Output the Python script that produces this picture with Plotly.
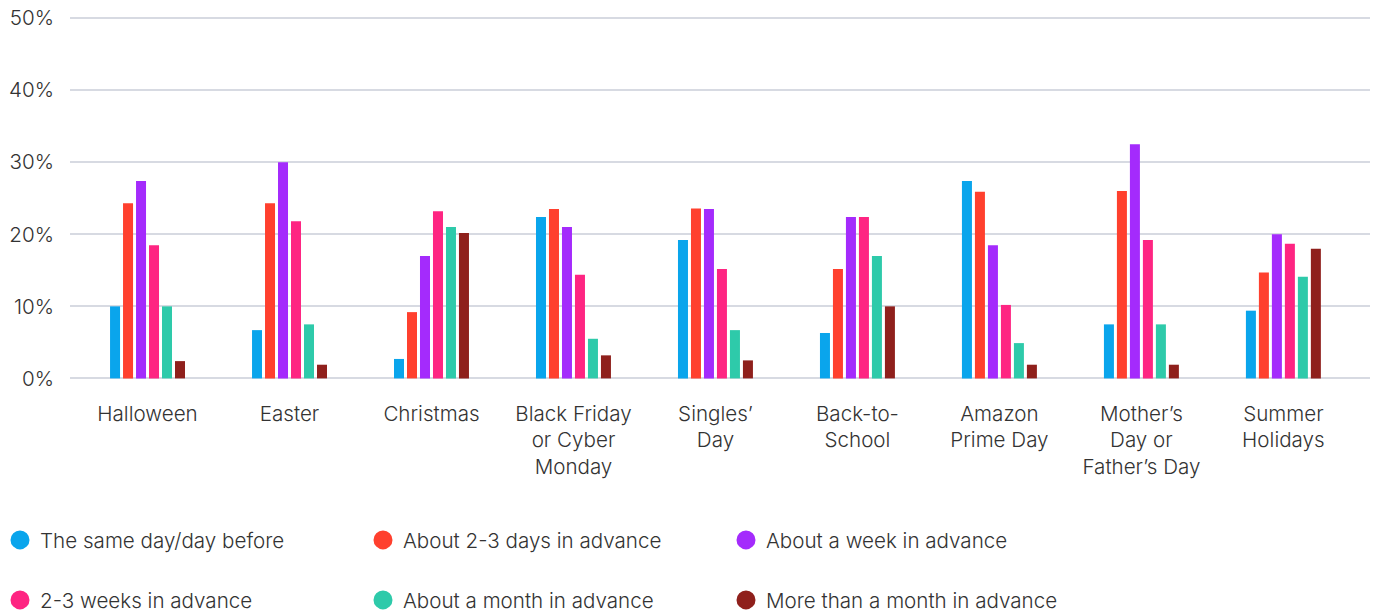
import plotly.graph_objects as go

# Occasions (x-axis categories)
occasions = [
    "Halloween", "Easter", "Christmas", "Black Friday<br>or Cyber<br>Monday",
    "Singles’<br>Day", "Back-to-<br>School", "Amazon<br>Prime Day",
    "Mother’s<br>Day or<br>Father’s Day", "Summer<br>Holidays",
]

# Share of shoppers (%) by how far ahead they buy
same_day = [10.0, 6.7, 2.7, 22.4, 19.2, 6.3, 27.4, 7.5, 9.4]
days_2_3 = [24.3, 24.3, 9.2, 23.5, 23.6, 15.2, 25.9, 26.0, 14.7]
one_week = [27.4, 30.0, 17.0, 21.0, 23.5, 22.4, 18.5, 32.5, 20.0]
weeks_2_3 = [18.5, 21.8, 23.2, 14.4, 15.2, 22.4, 10.2, 19.2, 18.7]
one_month = [10.0, 7.5, 21.0, 5.5, 6.7, 17.0, 4.9, 7.5, 14.1]
over_month = [2.4, 1.9, 20.2, 3.2, 2.5, 10.0, 1.9, 1.9, 18.0]

series_names = [
    "The same day/day before", "About 2-3 days in advance", "About a week in advance",
    "2-3 weeks in advance", "About a month in advance", "More than a month in advance",
]
series_values = [same_day, days_2_3, one_week, weeks_2_3, one_month, over_month]
colors = ["#0AA5EC", "#FF402E", "#A42BFC", "#FE2582", "#2ECAAA", "#8F201C"]

y_ticks = [0, 10, 20, 30, 40, 50]
y_tick_text = ["0%", "10%", "20%", "30%", "40%", "50%"]

FONT = "Inter Light, Inter, sans-serif"
TEXT = "#333333"
FSIZE = 20.6

fig = go.Figure()

for name, vals, col in zip(series_names, series_values, colors):
    fig.add_trace(go.Bar(
        x=list(range(len(occasions))), y=vals, name=name,
        marker=dict(color=col, line=dict(width=0)),
        showlegend=False, hoverinfo="y+name",
    ))

# Circular legend swatches: first three in the top row, last three below
for i, (name, col) in enumerate(zip(series_names, colors)):
    fig.add_trace(go.Scatter(
        x=[None], y=[None], mode="markers", name=name,
        marker=dict(color=col, size=16, symbol="circle", line=dict(color=col, width=3)),
        legend="legend" if i < 3 else "legend2",
    ))

legend_common = dict(
    orientation="h", xref="container", yref="container",
    xanchor="left", yanchor="middle", entrywidth=318, entrywidthmode="pixels",
    font=dict(family=FONT, size=FSIZE, color=TEXT, weight=300),
    bgcolor="rgba(0,0,0,0)", itemclick=False, itemdoubleclick=False,
    borderwidth=0, tracegroupgap=0,
)

fig.update_layout(
    width=1376, height=616,
    paper_bgcolor="white", plot_bgcolor="white",
    margin=dict(l=70, r=6, t=11, b=234),
    barmode="group", bargap=0.451, bargroupgap=0.23,
    font=dict(family=FONT, size=FSIZE, color=TEXT, weight=300),
    legend=dict(x=-0.005, y=(616 - 540) / 616, **legend_common),
    legend2=dict(x=-0.005, y=(616 - 600) / 616, **legend_common),
    xaxis=dict(
        tickmode="array", tickvals=list(range(len(occasions))), ticktext=occasions,
        range=[-0.546, 8.61], showgrid=False, zeroline=False, showline=False,
        ticks="", ticklabelstandoff=17,
        tickfont=dict(family=FONT, size=FSIZE, color=TEXT, weight=300),
    ),
    yaxis=dict(
        tickmode="array", tickvals=y_ticks, ticktext=y_tick_text,
        range=[-0.5, 51], showgrid=True, gridcolor="#D7DAE2", gridwidth=1.5,
        zeroline=False, showline=False, ticks="", ticklabelstandoff=15,
        tickfont=dict(family=FONT, size=FSIZE, color=TEXT, weight=300),
    ),
)

fig.write_html("out.html")
